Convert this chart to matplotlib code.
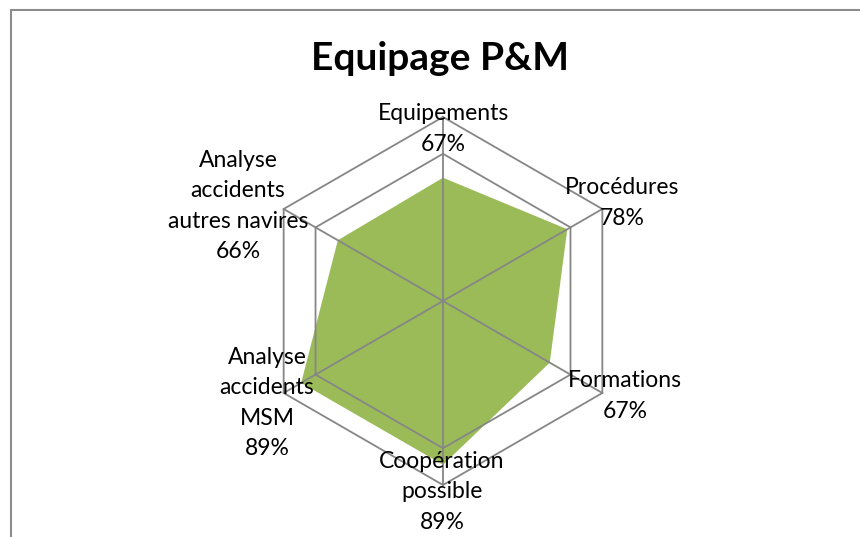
import numpy as np
import matplotlib
matplotlib.use("Agg")
import matplotlib.pyplot as plt
from matplotlib.patches import Polygon, Rectangle

categories = ["Equipements", "Procédures", "Formations", "Coopération\npossible",
              "Analyse\naccidents\nMSM", "Analyse\naccidents\nautres navires"]
values = [0.67, 0.78, 0.67, 0.89, 0.89, 0.66]
value_labels = ["67%", "78%", "67%", "89%", "89%", "66%"]
grid_levels = [0.8, 1.0]
title = "Equipage P&M"

W, H = 860, 537
cx, cy = 443, 301
R = 184.0
FONT = "Lato"

fig = plt.figure(figsize=(W / 100, H / 100), dpi=100)
ax = fig.add_axes([0, 0, 1, 1])
ax.set_xlim(-cx, W - cx)
ax.set_ylim(-(H - cy), cy)
ax.set_aspect("equal")
ax.axis("off")

n = len(categories)
ang = np.arange(n) * 2 * np.pi / n

def xy(r):
    r = np.asarray(r)
    return r * R * np.sin(ang), r * R * np.cos(ang)

# filled area
fx, fy = xy(values)
ax.add_patch(Polygon(np.column_stack([fx, fy]), closed=True, facecolor="#9BBB59",
                     edgecolor="none", zorder=1))

grid_col = "#868686"
for lv in grid_levels:
    gx, gy = xy([lv] * n)
    ax.plot(np.append(gx, gx[0]), np.append(gy, gy[0]), color=grid_col, lw=1.3, zorder=2)
ox, oy = xy([1.0] * n)
for i in range(n):
    ax.plot([0, ox[i]], [0, oy[i]], color=grid_col, lw=1.3, zorder=2)

# category labels (pixel offsets relative to centre)
label_pos = [(0, 172), (179, 98), (182, -95), (-1, -191), (-176, -102), (-205, 95)]
for (lx, ly), c, v in zip(label_pos, categories, value_labels):
    ax.text(lx, ly, c + "\n" + v, ha="center", va="center", multialignment="center",
            fontsize=16.5, family=FONT, color="black", linespacing=1.55, zorder=3)

fig.text(440 / W, 1 - 58 / H, title, ha="center", va="center", fontsize=28,
         fontweight="bold", family=FONT, color="black")

fig.patches.append(Rectangle((11 / W, -0.1), 1.2, 1 - 10 / H + 0.1, transform=fig.transFigure,
                             fill=False, edgecolor="#8c8c8c", lw=1.5))

fig.savefig("out.png", dpi=100, facecolor="white")
